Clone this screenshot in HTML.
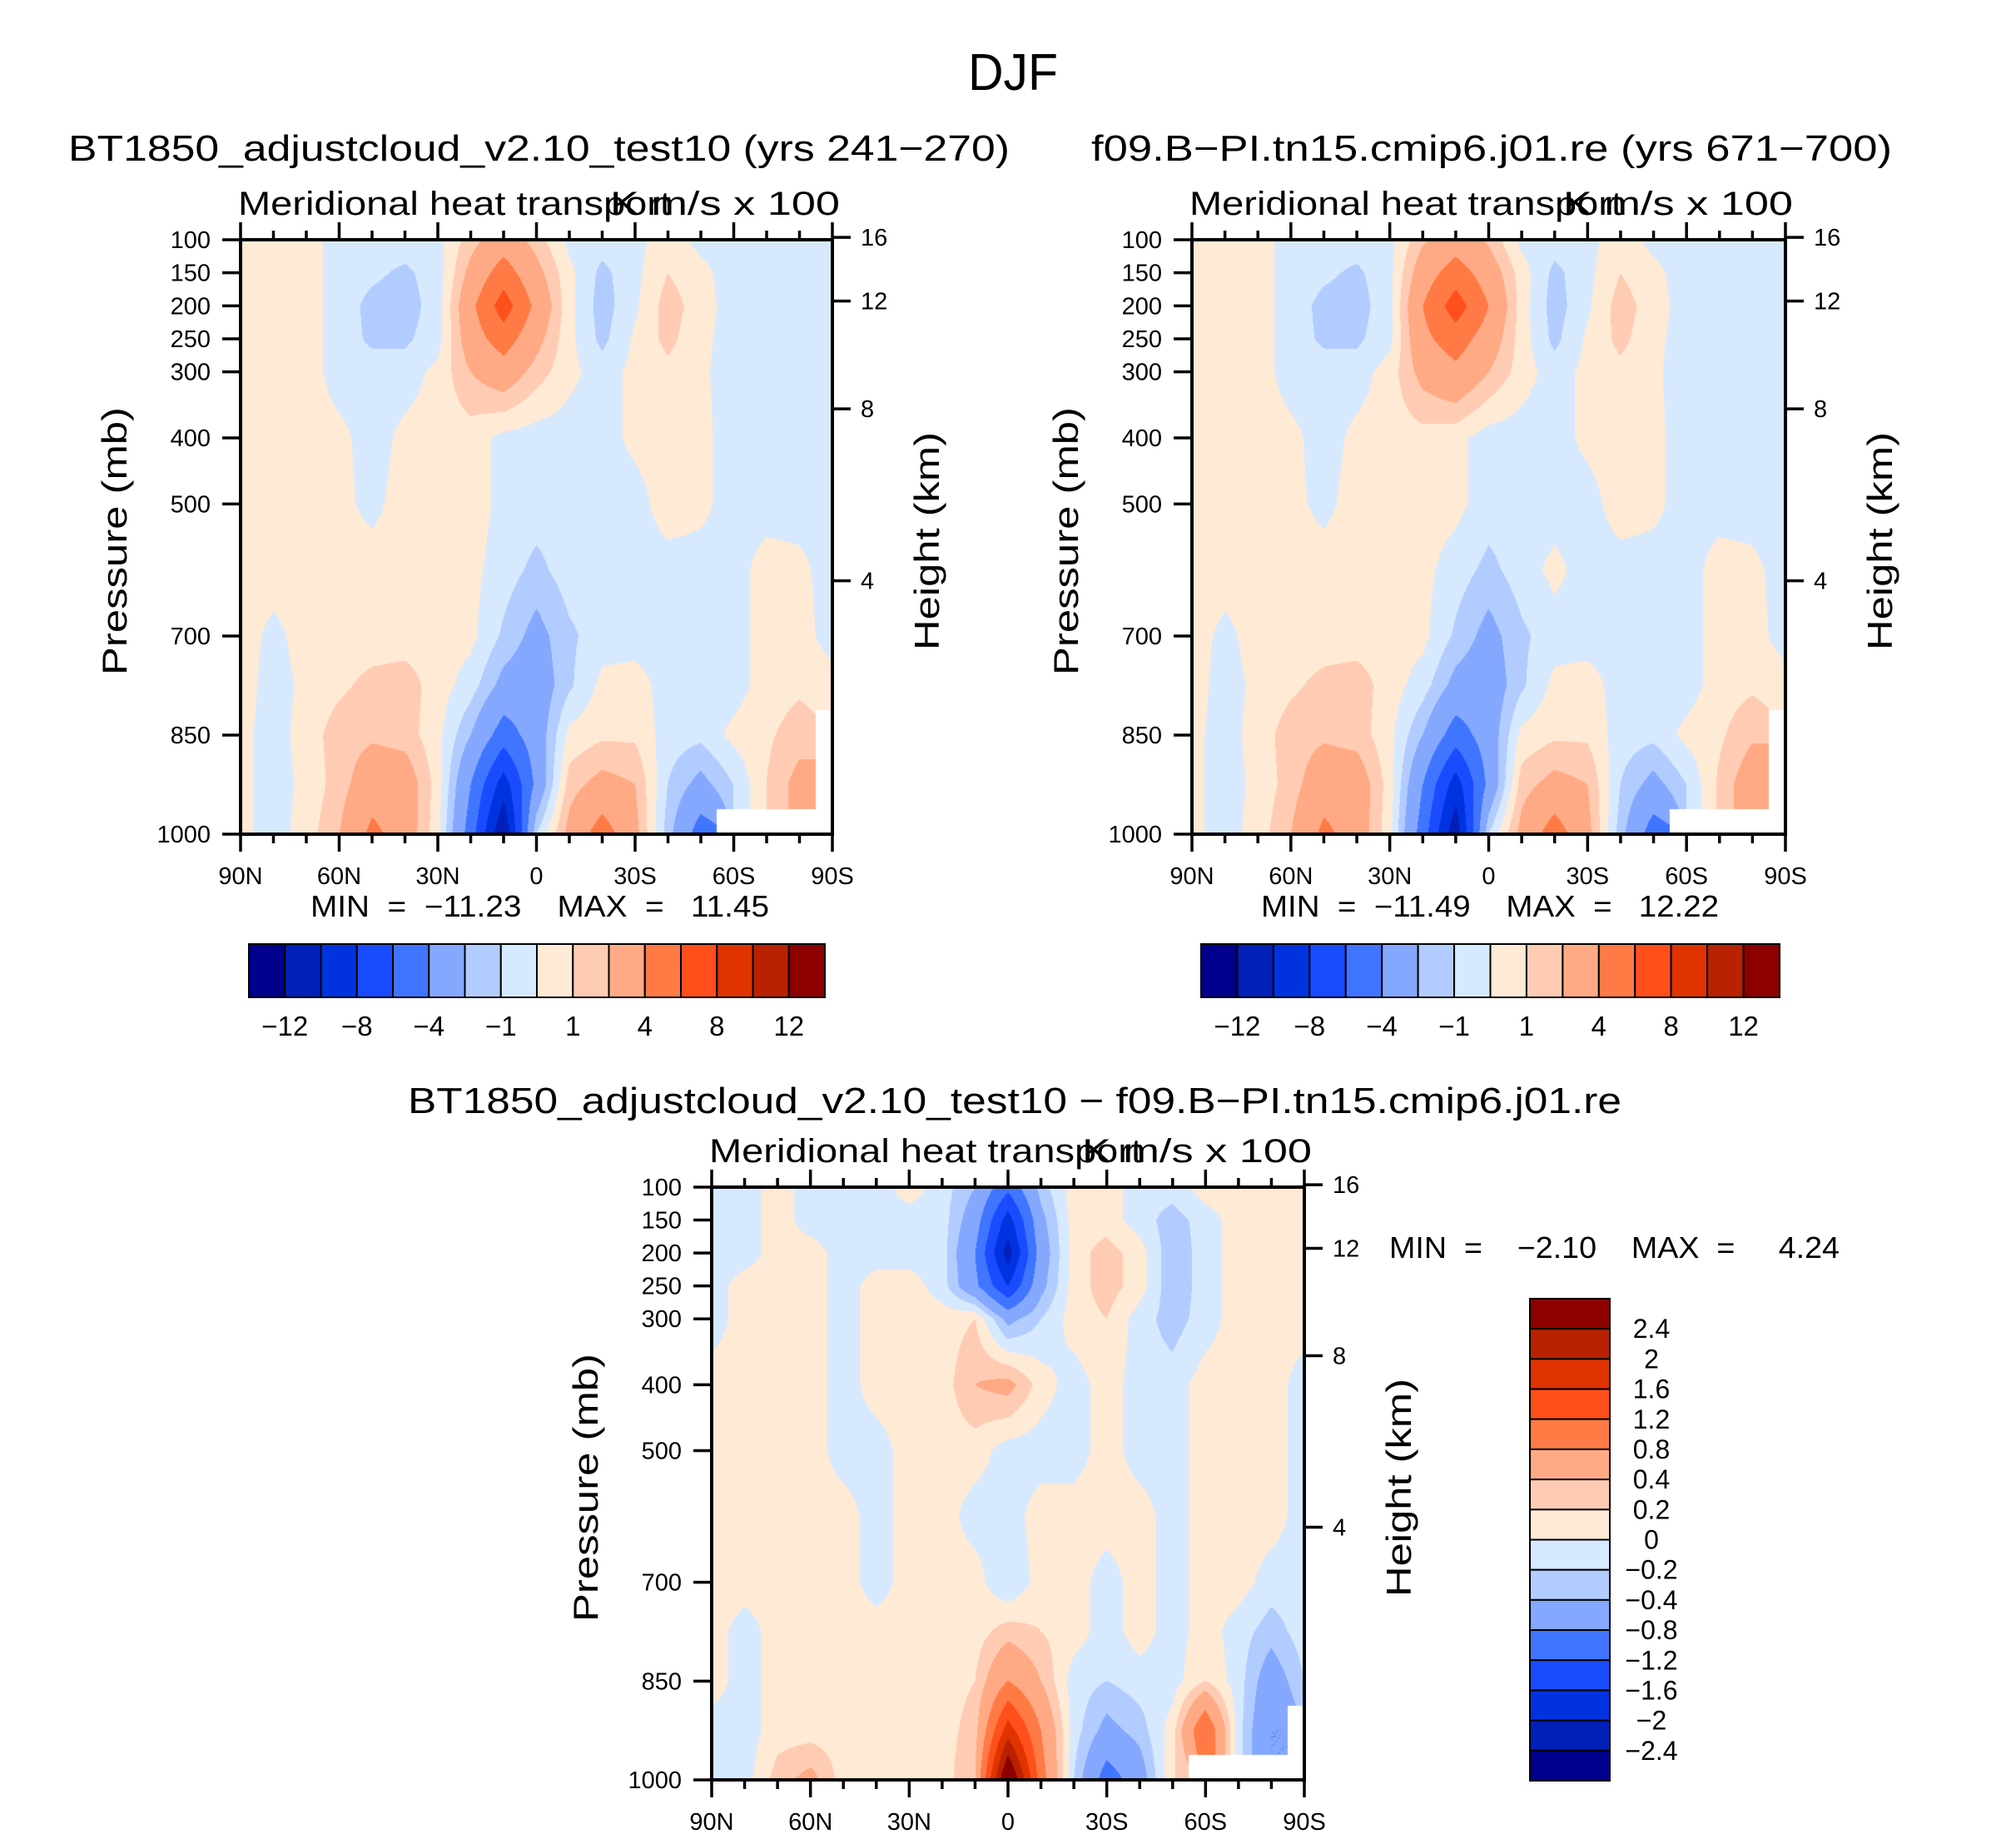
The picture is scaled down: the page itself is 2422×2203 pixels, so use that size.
<!DOCTYPE html>
<html><head><meta charset="utf-8">
<style>
html,body{margin:0;padding:0;background:#fff;}
#root{position:relative;width:2422px;height:2203px;overflow:hidden;background:#fff;font-family:"Liberation Sans",sans-serif;}
canvas{position:absolute;}
svg{position:absolute;left:0;top:0;}
text{white-space:pre;}
</style></head>
<body>
<div id="root">
<canvas id="c1"></canvas>
<canvas id="c2"></canvas>
<canvas id="c3"></canvas>
<svg id="ov" width="2422" height="2203"></svg>
</div>
<script>
// ---------- data ----------
const lats = [90,80,70,60,50,40,30,20,10,0,-10,-20,-30,-40,-50,-60,-70,-80,-90];
const plevs = [100,150,200,250,300,400,500,600,700,775,850,925,1000];
const N = null;
const field1 = [
 [.5,.5,.5,-.5,-.5,-.5,-.3,1.5,3,1.5,-.3,-.5,-.3,.5,-.3,-.5,-.5,-.5,-.5],
 [.5,.5,.5,-.5,-.8,-1.2,-.5,2.5,5,2.5,.3,-1.3,-.3,1,.3,-.5,-.5,-.5,-.5],
 [.5,.5,.5,-.5,-1.3,-1.5,-.5,3.5,7,3.5,.3,-1.5,-.2,1.5,.5,-.5,-.5,-.5,-.5],
 [.5,.5,.5,-.5,-1.2,-1.2,-.4,3,5,2.5,.3,-1.3,.2,1.3,.3,-.5,-.5,-.5,-.5],
 [.5,.5,.5,-.5,-.5,-.5,.3,2,3,1.5,.3,-.5,.3,.7,.2,-.5,-.5,-.5,-.5],
 [.5,.5,.5,.3,-.5,.3,.5,.5,-.3,-.5,-.5,-.5,.3,.6,.3,-.5,-.5,-.5,-.5],
 [.5,.5,.5,.3,-.3,.5,.5,.5,-.3,-.5,-.5,-.5,-.5,.6,.3,-.5,-.5,-.5,-.5],
 [.5,.5,.5,.5,.5,.5,.5,.3,-.5,-1.3,-.5,-.5,-.5,-.5,-.5,-.5,.5,.3,-.5],
 [.5,-.3,.5,.5,.5,.5,.5,.3,-1.2,-2.5,-1.2,-.5,-.5,-.5,-.5,-.5,.5,.5,-.5],
 [.5,-.5,.3,.8,1.3,1.5,.5,-.5,-2.5,-3,-1.2,.3,.5,-.5,-.5,-.5,.5,.8,.5],
 [.3,-.5,.5,1.5,1.8,1.5,.3,-2,-5,-3,.3,.8,.8,-.5,-.7,.3,.8,1.5,N],
 [.3,-.5,.3,1.5,3,3,.5,-4,-9,-3.5,1.5,2.5,2,-1,-2.5,-1,1,2.5,N],
 [.3,-.5,.5,2,4.5,3,.3,-5,-12,-1,2.5,5,2.5,-1.5,-5,N,N,N,N]
];
const field2 = [
 [.5,.5,.5,-.5,-.5,-.5,-.3,1.8,3,1.8,-.3,-.5,-.3,.5,-.3,-.5,-.5,-.5,-.5],
 [.5,.5,.5,-.5,-.8,-1.2,-.3,3,5,3,.5,-1.3,-.3,1,.3,-.5,-.5,-.5,-.5],
 [.5,.5,.5,-.5,-1.3,-1.5,-.3,4,7,4,.5,-1.5,-.2,1.5,.5,-.5,-.5,-.5,-.5],
 [.5,.5,.5,-.5,-1.2,-1.2,-.3,3.5,5,3,.5,-1.3,.2,1.3,.3,-.5,-.5,-.5,-.5],
 [.5,.5,.5,-.5,-.5,-.5,.5,2.5,3.5,2,.5,-.5,.3,.7,.2,-.5,-.5,-.5,-.5],
 [.5,.5,.5,.3,-.5,.3,.5,.6,.3,-.5,-.5,-.5,.3,.6,.3,-.5,-.5,-.5,-.5],
 [.5,.5,.5,.3,-.3,.5,.5,.5,.3,-.5,-.5,-.5,-.5,.6,.3,-.5,-.5,-.5,-.5],
 [.5,.5,.5,.5,.5,.5,.5,.3,-.5,-1.3,-.5,.3,-.5,-.5,-.5,-.5,.5,.3,-.5],
 [.5,-.3,.5,.5,.5,.5,.5,.3,-1.2,-2.5,-1.2,-.5,-.5,-.5,-.5,-.5,.5,.5,-.5],
 [.5,-.5,.3,.8,1.3,1.5,.5,-.5,-2.5,-3,-1.2,.3,.5,-.5,-.5,-.5,.5,.8,.5],
 [.3,-.5,.5,1.5,1.8,1.5,.3,-2,-5,-3,.3,.8,.8,-.5,-.7,.3,.8,1.8,N],
 [.3,-.5,.3,1.5,3,3,.5,-4,-9,-3.5,1.5,2.5,2,-1,-2.5,-1,1.2,3,N],
 [.3,-.5,.5,2,4.5,3,.3,-5,-11.5,-1,2.5,5,2.5,-1.5,-5,N,N,N,N]
];
const fieldDiff = [
 [-.1,-.1,.1,-.1,-.1,-.1,.1,-.1,-.4,-1.1,-.3,.1,.1,-.1,-.1,.1,.1,.1,.1],
 [-.1,-.1,.1,-.1,-.1,-.1,-.1,-.1,-.6,-1.8,-.5,.1,.1,-.1,-.3,-.1,.1,.1,.1],
 [-.1,-.1,.1,.1,-.1,-.1,-.1,-.1,-.8,-2.2,-.6,.1,.3,.1,-.35,-.1,.1,.1,.1],
 [-.1,.1,.1,.1,-.1,.1,.1,-.1,-.7,-1.6,-.5,.1,.3,.1,-.35,-.1,.1,.1,.1],
 [-.1,.1,.1,.1,-.1,.1,.1,.1,.2,-.5,-.2,.1,.2,-.1,-.3,-.1,.1,.1,.1],
 [.1,.1,.1,.1,-.1,.1,.1,.1,.4,.5,.1,-.1,.1,-.1,-.1,.1,.1,.1,-.1],
 [.1,.1,.1,.1,-.1,-.1,.1,.1,.1,-.1,-.1,-.1,.1,-.1,-.1,.1,.1,.1,-.1],
 [.1,.1,.1,.1,.1,-.1,.1,.1,-.1,-.1,.1,.1,.1,.1,-.1,.1,.1,.1,-.1],
 [.1,.1,.1,.1,.1,-.1,.1,.1,.1,-.2,.1,.1,-.1,.1,-.1,.1,.1,-.1,-.1],
 [.1,-.1,.1,.1,.1,.1,.1,.1,.1,.3,.2,.1,-.1,.1,-.1,.1,-.1,-.3,-.1],
 [.1,-.1,.1,.1,.1,.1,.1,.1,.2,.8,.4,-.1,-.2,-.1,-.1,.2,-.1,-.6,-.2],
 [-.1,-.1,.1,.1,.1,.1,.1,.1,.3,1.8,.8,-.1,-.5,-.3,.1,1.2,-.1,-.8,N],
 [-.1,-.1,.3,.5,.1,.1,.1,.1,.4,3,1,-.2,-1,-.6,.2,N,N,N,N]
];
const levelsMain = [-12,-10,-8,-6,-4,-2,-1,0,1,2,4,6,8,10,12];
const levelsDiff = [-2.4,-2,-1.6,-1.2,-0.8,-0.4,-0.2,0,0.2,0.4,0.8,1.2,1.6,2,2.4];
const labelsMain = ["−12","","−8","","−4","","−1","","1","","4","","8","","12"];
const labelsDiff = ["2.4","2","1.6","1.2","0.8","0.4","0.2","0","−0.2","−0.4","−0.8","−1.2","−1.6","−2","−2.4"];
const colors = ["#00008C","#0020B8","#0033E0","#1A4CFF","#4075FF","#85A8FF","#B3CCFF","#D6E9FF","#FFEAD6","#FFCCB3","#FFAA85","#FF7A45","#FF4F1A","#E03300","#B82200","#8C0000"];
const pTicks = [100,150,200,250,300,400,500,700,850,1000];
const xTickLats = [90,60,30,0,-30,-60,-90];
const xTickLabels = ["90N","60N","30N","0","30S","60S","90S"];
const heightKm = [4,8,12,16];

// ---------- helpers ----------
const SVGNS="http://www.w3.org/2000/svg";
const ov=document.getElementById('ov');
function mk(tag,attrs,parent){const e=document.createElementNS(SVGNS,tag);for(const k in attrs)e.setAttribute(k,attrs[k]);(parent||ov).appendChild(e);return e;}
function txt(s,x,y,size,anchor,extra){const t=mk('text',Object.assign({x:x,y:y,'font-size':size,'text-anchor':anchor||'start','font-family':'Liberation Sans, sans-serif',fill:'#000'},extra||{}));t.textContent=s;return t;}
function kmToP(z){return 1013.25*Math.pow(1-2.25577e-5*z*1000,5.25588);}
function colorIndex(v,lv){let i=0;while(i<lv.length&&v>=lv[i])i++;return i;}
function plevIndex(p){for(let i=0;i<plevs.length-1;i++){if(p<=plevs[i+1])return i+(p-plevs[i])/(plevs[i+1]-plevs[i]);}return plevs.length-1;}

function drawField(id,box,field,lv){
  const c=document.getElementById(id);
  c.width=box.w;c.height=box.h;c.style.left=box.x+'px';c.style.top=box.y+'px';
  const ctx=c.getContext('2d');const img=ctx.createImageData(box.w,box.h);
  const rgb=colors.map(h=>[parseInt(h.slice(1,3),16),parseInt(h.slice(3,5),16),parseInt(h.slice(5,7),16)]);
  const nl=lats.length;
  for(let y=0;y<box.h;y++){
    const p=100+900*y/(box.h-1);const fi=plevIndex(p);
    const i0=Math.min(Math.floor(fi),plevs.length-2),ty=fi-i0;
    for(let x=0;x<box.w;x++){
      const fj=(nl-1)*x/(box.w-1);const j0=Math.min(Math.floor(fj),nl-2),tx=fj-j0;
      const ni=Math.round(fi),nj=Math.round(fj);
      let r=255,g=255,b=255;
      if(field[ni][nj]!==null){
        const vals=[field[i0][j0],field[i0][j0+1],field[i0+1][j0],field[i0+1][j0+1]];
        const ws=[(1-ty)*(1-tx),(1-ty)*tx,ty*(1-tx),ty*tx];
        let s=0,sw=0;for(let k=0;k<4;k++){if(vals[k]!==null){s+=vals[k]*ws[k];sw+=ws[k];}}
        const v=s/sw;const col=rgb[colorIndex(v,lv)];r=col[0];g=col[1];b=col[2];
      }
      const o=(y*box.w+x)*4;img.data[o]=r;img.data[o+1]=g;img.data[o+2]=b;img.data[o+3]=255;
    }
  }
  ctx.putImageData(img,0,0);
}

function drawAxes(box,name){
  const g=mk('g',{});
  
  
  const yOf=p=>box.y+(p-100)/900*box.h;
  const xOf=l=>box.x+(90-l)/180*box.w;
  mk('rect',{x:box.x,y:box.y,width:box.w,height:box.h,fill:'none',stroke:'#000','stroke-width':4},g);
  for(let l=90;l>=-90;l-=10){
    const x=xOf(l);const major=(l%30===0);const len=major?21:11;
    mk('line',{x1:x,y1:box.y,x2:x,y2:box.y-len,stroke:'#000','stroke-width':3.5},g);
    mk('line',{x1:x,y1:box.y+box.h,x2:x,y2:box.y+box.h+len,stroke:'#000','stroke-width':3.5},g);
  }
  xTickLats.forEach((l,i)=>{const t=txt(xTickLabels[i],xOf(l),box.y+box.h+60,29,'middle');
    g.appendChild(t);});
  pTicks.forEach(p=>{const y=yOf(p);mk('line',{x1:box.x,y1:y,x2:box.x-22,y2:y,stroke:'#000','stroke-width':3.5},g);
    const t=txt(String(p),box.x-36,y+10,29,'end');g.appendChild(t);});
  heightKm.forEach(z=>{const y=yOf(kmToP(z));mk('line',{x1:box.x+box.w,y1:y,x2:box.x+box.w+22,y2:y,stroke:'#000','stroke-width':3.5},g);
    const t=txt(String(z),box.x+box.w+34,y+10,29,'start');g.appendChild(t);});
  const cy=box.y+box.h/2+5;
  const pt=txt('Pressure (mb)',0,0,42,'middle',{transform:`translate(${box.x-137},${cy}) rotate(-90)`,textLength:322,lengthAdjust:'spacingAndGlyphs'});
  
  const ht=txt('Height (km)',0,0,42,'middle',{transform:`translate(${box.x+box.w+128},${cy}) rotate(-90)`,textLength:262,lengthAdjust:'spacingAndGlyphs'});
  
  const m=txt('Meridional heat transport',box.x-3,box.y-30,40,'start',{textLength:520,lengthAdjust:'spacingAndGlyphs'});
  
  const u=txt('K m/s x 100',box.x+box.w+9,box.y-30,40,'end',{textLength:276,lengthAdjust:'spacingAndGlyphs'});
  
}

function hColorbar(x,y,w,h,name){
  const bw=w/colors.length;
  colors.forEach((c,i)=>{const r=mk('rect',{x:x+i*bw,y:y,width:bw,height:h,fill:c,stroke:'#000','stroke-width':2});
    });
  levelsMain.forEach((v,i)=>{if(labelsMain[i]){const t=txt(labelsMain[i],x+(i+1)*bw,y+h+46,33,'middle');
    }});
}
function vColorbar(x,y,w,h,name){
  const bh=h/colors.length;
  colors.slice().reverse().forEach((c,i)=>{const r=mk('rect',{x:x,y:y+i*bh,width:w,height:bh,fill:c,stroke:'#000','stroke-width':2});
    });
  labelsDiff.forEach((s,i)=>{const t=txt(s,x+w+50,y+(i+1)*bh+11,32,'middle');
    });
}

// ---------- layout ----------
const b1={x:289,y:288,w:711,h:714};
const b2={x:1432,y:288,w:713,h:714};
const b3={x:855,y:1426,w:712,h:712};
drawField('c1',b1,field1,levelsMain);
drawField('c2',b2,field2,levelsMain);
drawField('c3',b3,fieldDiff,levelsDiff);
drawAxes(b1,'panel-test10');
drawAxes(b2,'panel-cmip6');
drawAxes(b3,'panel-difference');

let t;
t=txt('DJF',1217,108,62,'middle',{textLength:108,lengthAdjust:'spacingAndGlyphs'});

t=txt('BT1850_adjustcloud_v2.10_test10 (yrs 241−270)',82,193,44,'start',{textLength:1131,lengthAdjust:'spacingAndGlyphs'});

t=txt('f09.B−PI.tn15.cmip6.j01.re (yrs 671−700)',1311,193,44,'start',{textLength:962,lengthAdjust:'spacingAndGlyphs'});

t=txt('MIN  =  −11.23    MAX  =   11.45',373,1101,36,'start',{textLength:551,lengthAdjust:'spacingAndGlyphs'});

t=txt('MIN  =  −11.49    MAX  =   12.22',1515,1101,36,'start',{textLength:550,lengthAdjust:'spacingAndGlyphs'});

hColorbar(299,1134,692,64,'colorbar-test10');
hColorbar(1443,1134,695,64,'colorbar-cmip6');
t=txt('BT1850_adjustcloud_v2.10_test10 − f09.B−PI.tn15.cmip6.j01.re',490,1337,44,'start',{textLength:1458,lengthAdjust:'spacingAndGlyphs'});

t=txt('MIN  =    −2.10    MAX  =     4.24',1669,1511,36,'start',{textLength:541,lengthAdjust:'spacingAndGlyphs'});

vColorbar(1838,1560,96,579,'colorbar-difference');
</script>
</body></html>
